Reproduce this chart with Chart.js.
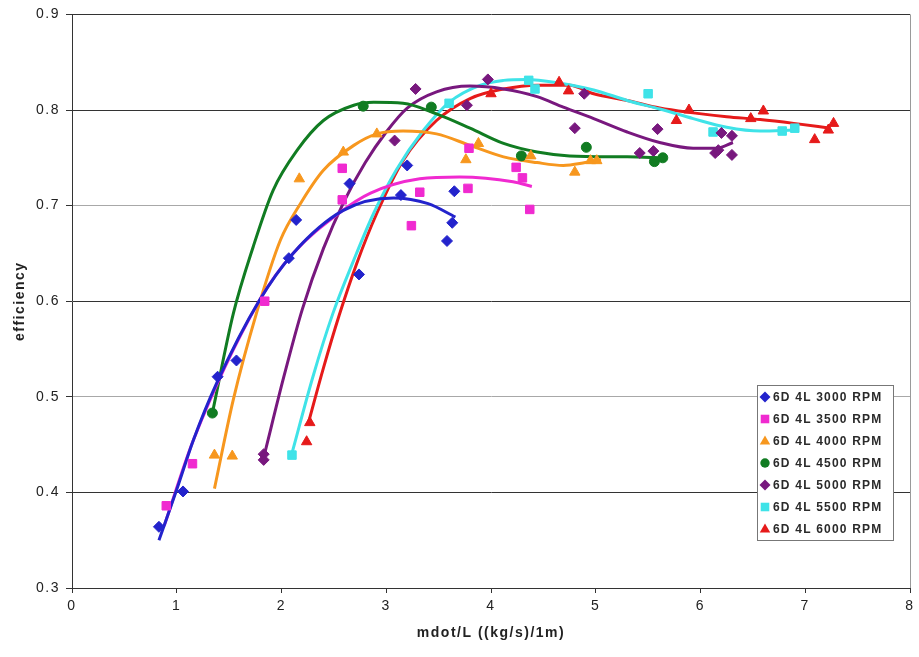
<!DOCTYPE html>
<html>
<head>
<meta charset="utf-8">
<script src="https://cdn.jsdelivr.net/npm/chart.js@4.4.1/dist/chart.umd.min.js"></script>
<style>
    html, body { margin: 0; padding: 0; background: #fff; }
    #wrap { width: 919px; height: 657px; }
</style>
</head>
<body>
<div id="wrap"><canvas id="effChart" width="919" height="657"></canvas></div>
<script>
// ==========================================
// DATA
// ==========================================
const seriesNames = ['6D 4L 3000 RPM', '6D 4L 3500 RPM', '6D 4L 4000 RPM', '6D 4L 4500 RPM',
                     '6D 4L 5000 RPM', '6D 4L 5500 RPM', '6D 4L 6000 RPM'];

// measured points [mdot/L, efficiency]
const pts3000 = [[0.83,0.364],[1.06,0.401],[1.39,0.521],[1.57,0.538],[2.07,0.645],[2.14,0.685],
                 [2.65,0.723],[2.74,0.628],[3.14,0.711],[3.20,0.742],[3.58,0.663],[3.63,0.682],[3.65,0.715]];
const pts3500 = [[0.90,0.386],[1.15,0.430],[1.84,0.600],[2.58,0.739],[2.58,0.706],[3.24,0.679],
                 [3.32,0.714],[3.78,0.718],[3.79,0.760],[4.24,0.740],[4.30,0.729],[4.37,0.696]];
const pts4000 = [[1.36,0.439],[1.53,0.438],[2.17,0.728],[2.59,0.756],[2.91,0.775],[3.76,0.748],
                 [3.88,0.765],[4.38,0.752],[4.80,0.735],[4.95,0.747],[5.01,0.747]];
const pts4500 = [[1.34,0.483],[2.78,0.804],[3.43,0.803],[4.29,0.752],[4.91,0.761],[5.56,0.746],[5.64,0.750]];
const pts5000 = [[1.83,0.440],[1.83,0.434],[3.08,0.768],[3.28,0.822],[3.77,0.805],[3.97,0.832],
                 [4.80,0.781],[4.89,0.817],[5.42,0.755],[5.55,0.757],[5.59,0.780],[6.14,0.755],
                 [6.17,0.758],[6.20,0.776],[6.30,0.773],[6.30,0.753]];
const pts5500 = [[2.10,0.439],[3.60,0.807],[4.36,0.831],[4.42,0.822],[5.50,0.817],[6.12,0.777],
                 [6.78,0.778],[6.90,0.781]];
const pts6000 = [[2.24,0.453],[2.27,0.473],[4.00,0.817],[4.65,0.829],[4.74,0.820],[5.77,0.789],
                 [5.89,0.800],[6.48,0.791],[6.60,0.799],[7.09,0.769],[7.22,0.779],[7.27,0.786]];

// trend lines
const fit3000 = [[0.83,0.350],[1.00,0.403],[1.16,0.455],[1.38,0.514],[1.79,0.601],[2.11,0.650],
                 [2.59,0.695],[3.07,0.708],[3.40,0.702],[3.66,0.688]];
const fit3500 = [[0.88,0.365],[1.16,0.455],[1.79,0.601],[2.11,0.650],[2.56,0.693],[2.85,0.713],
                 [3.32,0.728],[3.70,0.730],[4.21,0.725],[4.39,0.720]];
const fit4000 = [[1.36,0.404],[1.54,0.497],[1.76,0.587],[1.99,0.664],[2.18,0.702],[2.40,0.737],
                 [2.69,0.763],[2.91,0.775],[3.16,0.778],[3.48,0.775],[3.80,0.763],[4.12,0.751],
                 [4.44,0.745],[4.69,0.742],[4.90,0.745],[5.05,0.748]];
const fit4500 = [[1.34,0.483],[1.54,0.587],[1.73,0.657],[1.92,0.716],[2.15,0.758],[2.40,0.789],
                 [2.69,0.805],[2.88,0.808],[3.16,0.807],[3.48,0.796],[3.80,0.781],[4.12,0.765],
                 [4.44,0.756],[4.75,0.752],[5.30,0.751],[5.64,0.750]];
const fit5000 = [[1.84,0.441],[2.02,0.520],[2.20,0.592],[2.40,0.655],[2.60,0.705],[2.80,0.745],
                 [3.00,0.777],[3.20,0.802],[3.48,0.819],[3.80,0.825],[4.12,0.822],[4.44,0.814],
                 [4.69,0.803],[4.98,0.791],[5.30,0.777],[5.61,0.766],[5.93,0.760],[6.15,0.760],
                 [6.31,0.766]];
const fit5500 = [[2.10,0.441],[2.30,0.521],[2.49,0.587],[2.69,0.643],[2.88,0.692],[3.10,0.738],
                 [3.35,0.778],[3.60,0.808],[3.90,0.826],[4.12,0.831],[4.34,0.832],[4.66,0.828],
                 [4.98,0.821],[5.30,0.810],[5.61,0.801],[5.93,0.791],[6.25,0.782],[6.57,0.778],
                 [6.89,0.779]];
const fit6000 = [[2.26,0.474],[2.40,0.530],[2.55,0.585],[2.72,0.640],[2.91,0.692],[3.16,0.747],
                 [3.48,0.789],[3.80,0.812],[4.12,0.822],[4.44,0.826],[4.75,0.826],[4.98,0.817],
                 [5.30,0.810],[5.61,0.802],[5.93,0.797],[6.25,0.793],[6.57,0.790],[6.89,0.786],
                 [7.24,0.781]];

const xTicks = [0, 1, 2, 3, 4, 5, 6, 7, 8];
const yTicks = [0.3, 0.4, 0.5, 0.6, 0.7, 0.8, 0.9];

// ==========================================
// STYLE
// ==========================================
const allPts = [pts3000, pts3500, pts4000, pts4500, pts5000, pts5500, pts6000];
const allFits = [fit3000, fit3500, fit4000, fit4500, fit5000, fit5500, fit6000];
const colors = ['#2323cc', '#f02ad0', '#f7971e', '#117c22', '#78187e', '#3fe3e8', '#e61a1a'];
const markers = ['rectRot', 'rect', 'triangle', 'circle', 'rectRot', 'rect', 'triangle'];
const markerSize = { rectRot: 5.5, rect: 6, triangle: 6, circle: 5 };
const FONT = '"Liberation Sans", Arial, sans-serif';

// draws one small marker for the legend box
function drawMarker(ctx, style, x, y, r) {
    ctx.beginPath();
    if (style === 'rectRot') {
        ctx.moveTo(x - r, y); ctx.lineTo(x, y - r); ctx.lineTo(x + r, y); ctx.lineTo(x, y + r);
    } else if (style === 'rect') {
        const s = r * 0.78;
        ctx.rect(x - s, y - s, 2 * s, 2 * s);
    } else if (style === 'triangle') {
        ctx.moveTo(x, y - r); ctx.lineTo(x + r * 0.95, y + r * 0.65); ctx.lineTo(x - r * 0.95, y + r * 0.65);
    } else {
        ctx.arc(x, y, r * 0.85, 0, Math.PI * 2);
    }
    ctx.closePath();
    ctx.fill();
}

// the picture's text is a little wider than plain Arial
const wideText = {
    id: 'wideText',
    beforeDraw(chart) {
        if ('letterSpacing' in chart.ctx) chart.ctx.letterSpacing = '1.5px';
    }
};

// Excel-like legend box sitting inside the plot, bottom right
const boxLegend = {
    id: 'boxLegend',
    afterDatasetsDraw(chart) {
        const ctx = chart.ctx;
        const area = chart.chartArea;
        const rowH = 22;
        const w = 136, h = rowH * seriesNames.length + 1;
        const x0 = area.right - 17 - w;
        const y0 = area.bottom - 48 - h;

        ctx.save();
        ctx.fillStyle = '#fff';
        ctx.fillRect(x0, y0, w, h);
        ctx.strokeStyle = '#777';
        ctx.lineWidth = 1;
        ctx.strokeRect(Math.round(x0) + 0.5, Math.round(y0) + 0.5, w, h);

        ctx.font = 'bold 12px ' + FONT;
        ctx.textBaseline = 'middle';
        if ('letterSpacing' in ctx) ctx.letterSpacing = '1.2px';
        seriesNames.forEach((name, i) => {
            const cy = y0 + 12 + i * rowH;
            ctx.fillStyle = colors[i];
            drawMarker(ctx, markers[i], x0 + 8, cy, 5.5);
            ctx.fillStyle = '#2a2a2a';
            ctx.fillText(name, x0 + 16, cy + 0.5);
        });
        ctx.restore();
    }
};

// ==========================================
// DATASETS
// ==========================================
const datasets = [];
allPts.forEach((pts, i) => {
    datasets.push({
        label: seriesNames[i],
        data: pts.map(p => ({ x: p[0], y: p[1] })),
        showLine: false,
        pointStyle: markers[i],
        pointRadius: markerSize[markers[i]],
        backgroundColor: colors[i],
        borderColor: colors[i],
        borderWidth: 1
    });
});
allFits.forEach((fit, i) => {
    datasets.push({
        label: seriesNames[i] + ' trend',
        data: fit.map(p => ({ x: p[0], y: p[1] })),
        showLine: true,
        pointRadius: 0,
        borderColor: colors[i],
        borderWidth: 3,
        cubicInterpolationMode: 'monotone'
    });
});

new Chart(document.getElementById('effChart'), {
    type: 'scatter',
    data: { datasets },
    options: {
        responsive: false,
        animation: false,
        layout: { padding: { top: 14, right: 9, left: 0, bottom: 0 } },
        plugins: { legend: { display: false }, tooltip: { enabled: false } },
        scales: {
            x: {
                type: 'linear',
                min: xTicks[0], max: xTicks[xTicks.length - 1],
                afterFit(s) { s.height = 69; },
                afterBuildTicks(s) { s.ticks = xTicks.map(v => ({ value: v })); },
                ticks: { color: '#222', font: { family: FONT, size: 14 }, padding: 5 },
                grid: {
                    color: c => (c.tick && c.tick.value === 8) ? '#9a9a9a' : 'rgba(0,0,0,0)',
                    tickColor: '#333', tickLength: 5
                },
                border: { color: '#333', width: 1 },
                title: {
                    display: true, text: 'mdot/L ((kg/s)/1m)', color: '#222',
                    font: { family: FONT, size: 14, weight: 'bold' }, padding: { bottom: 15.6 }
                }
            },
            y: {
                min: yTicks[0], max: yTicks[yTicks.length - 1],
                afterFit(s) { s.width = 72; },
                afterBuildTicks(s) { s.ticks = yTicks.map(v => ({ value: v })); },
                ticks: { color: '#222', font: { family: FONT, size: 14 }, padding: 6,
                         callback: v => v.toFixed(1) },
                grid: {
                    color: c => {
                        const k = Math.round(c.tick.value * 10);
                        return (k === 5 || k === 7) ? '#a8a8a8' : '#333';
                    },
                    tickColor: '#333', tickLength: 6
                },
                border: { color: '#333', width: 1 },
                title: {
                    display: true, text: 'efficiency', color: '#222',
                    font: { family: FONT, size: 14, weight: 'bold' }, padding: { top: 12 }
                }
            }
        }
    },
    plugins: [wideText, boxLegend]
});
</script>
</body>
</html>
